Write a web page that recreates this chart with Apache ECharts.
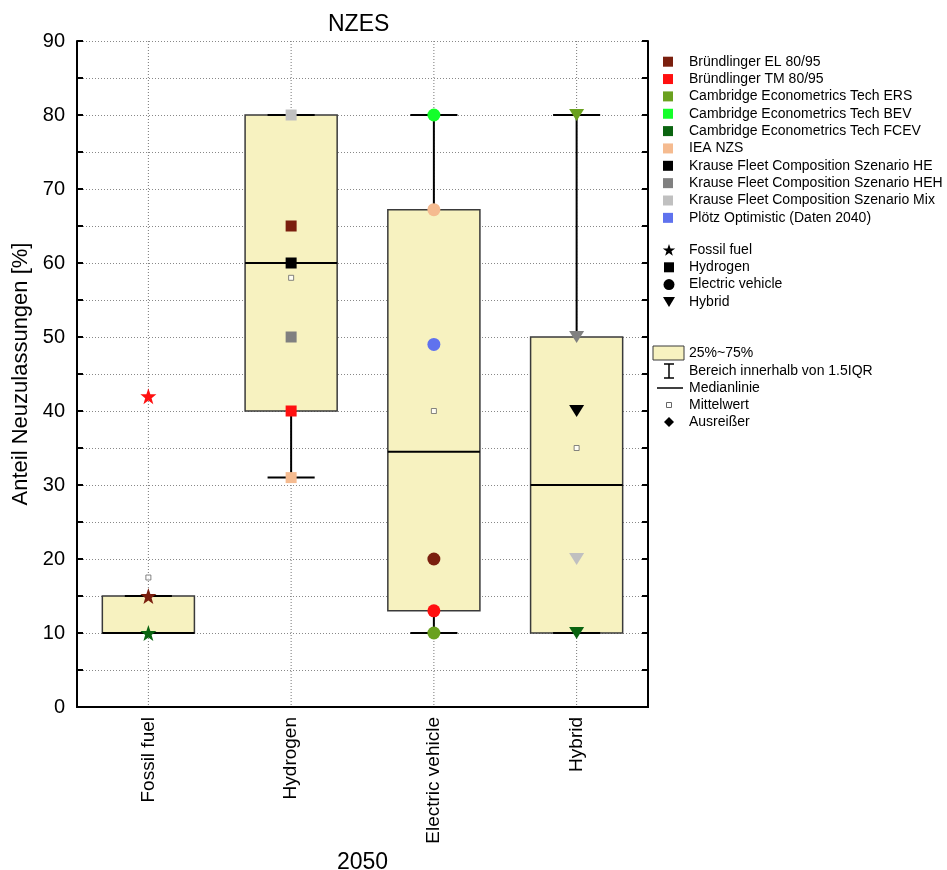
<!DOCTYPE html>
<html><head><meta charset="utf-8">
<script src="https://cdn.jsdelivr.net/npm/echarts@6/dist/echarts.min.js"></script>
<style>html,body{margin:0;padding:0;background:#fff}#c{width:947px;height:870px}</style>
</head><body><div id="c"></div>
<script>
// ---- data ----
const categories = ['Fossil fuel', 'Hydrogen', 'Electric vehicle', 'Hybrid'];
const yTicks = [0, 10, 20, 30, 40, 50, 60, 70, 80, 90];
const boxMin    = [10, 31, 10, 10];
const boxQ1     = [10, 40, 13, 10];
const boxMedian = [10, 60, 34.5, 30];
const boxQ3     = [15, 80, 67.2, 50];
const boxMax    = [15, 80, 80, 80];
const meanValues = [17.5, 58, 40, 35];

const sourceNames = [
  'Bründlinger EL 80/95', 'Bründlinger TM 80/95', 'Cambridge Econometrics Tech ERS',
  'Cambridge Econometrics Tech BEV', 'Cambridge Econometrics Tech FCEV', 'IEA NZS',
  'Krause Fleet Composition Szenario HE', 'Krause Fleet Composition Szenario HEH',
  'Krause Fleet Composition Szenario Mix', 'Plötz Optimistic (Daten 2040)'
];
// values per category: Fossil fuel, Hydrogen, Electric vehicle, Hybrid
const bruendlingerEL = [15, 65, 20, null];
const bruendlingerTM = [42, 40, 13, null];
const cambridgeERS   = [null, null, 10, 80];
const cambridgeBEV   = [null, null, 80, null];
const cambridgeFCEV  = [10, null, null, 10];
const ieaNZS         = [null, 31, 67.2, null];
const krauseHE       = [null, 60, null, 40];
const krauseHEH      = [null, 50, null, 50];
const krauseMix      = [null, 80, null, 20];
const ploetz         = [null, null, 49, null];
const sourceValues = [bruendlingerEL, bruendlingerTM, cambridgeERS, cambridgeBEV, cambridgeFCEV,
  ieaNZS, krauseHE, krauseHEH, krauseMix, ploetz];

const typeLegend = ['Fossil fuel', 'Hydrogen', 'Electric vehicle', 'Hybrid'];
const boxLegend = ['25%~75%', 'Bereich innerhalb von 1.5IQR', 'Medianlinie', 'Mittelwert', 'Ausreißer'];

// ---- styles ----
const sourceColors = ['#7a1f0e', '#ff1010', '#6aa11f', '#14ff2a', '#0a6410', '#f5bb90',
  '#000000', '#808080', '#c0c0c0', '#5f72ee'];
const FONT = 'Liberation Sans, Arial, sans-serif';
const STAR = 'path://M50 0 L61.76 33.82 L97.55 34.55 L69.02 56.18 L79.39 90.45 L50 70 L20.61 90.45 L30.98 56.18 L2.45 34.55 L38.24 33.82 Z';
const catSymbol = [
  {symbol: STAR, symbolSize: 16, symbolRotate: 0},
  {symbol: 'rect', symbolSize: 11, symbolRotate: 0},
  {symbol: 'circle', symbolSize: 13, symbolRotate: 0},
  {symbol: 'triangle', symbolSize: [15, 12], symbolRotate: 180}
];
const BOX_FILL = '#f7f2c0';

const boxData = categories.map((c, i) => [i, boxMin[i], boxQ1[i], boxMedian[i], boxQ3[i], boxMax[i]]);

function renderBox(params, api) {
  const idx = api.value(0);
  const cs = params.coordSys;
  const band = api.size([1, 0])[0];
  const vMin = api.value(1), vQ1 = api.value(2), vMed = api.value(3), vQ3 = api.value(4), vMax = api.value(5);
  const cx = api.coord([idx, vMin])[0];
  const y = v => api.coord([idx, v])[1];
  const bw = band * 0.645, cw = band * 0.33;
  const ch = [];
  ch.push({type: 'line', shape: {x1: cx, y1: cs.y, x2: cx, y2: cs.y + cs.height},
    style: {stroke: '#777', lineWidth: 1, lineDash: [1, 2]}});
  if (vMax > vQ3) ch.push({type: 'line', shape: {x1: cx, y1: y(vQ3), x2: cx, y2: y(vMax)}, style: {stroke: '#000', lineWidth: 2}});
  if (vMin < vQ1) ch.push({type: 'line', shape: {x1: cx, y1: y(vQ1), x2: cx, y2: y(vMin)}, style: {stroke: '#000', lineWidth: 2}});
  ch.push({type: 'rect', shape: {x: cx - bw / 2, y: y(vQ3), width: bw, height: y(vQ1) - y(vQ3)},
    style: {fill: BOX_FILL, stroke: '#3a3a3a', lineWidth: 1.5}});
  ch.push({type: 'line', shape: {x1: cx - bw / 2, y1: y(vMed), x2: cx + bw / 2, y2: y(vMed)}, style: {stroke: '#000', lineWidth: 2}});
  ch.push({type: 'line', shape: {x1: cx - cw / 2, y1: y(vMax), x2: cx + cw / 2, y2: y(vMax)}, style: {stroke: '#000', lineWidth: 2}});
  ch.push({type: 'line', shape: {x1: cx - cw / 2, y1: y(vMin), x2: cx + cw / 2, y2: y(vMin)}, style: {stroke: '#000', lineWidth: 2}});
  return {type: 'group', children: ch};
}

const scatterSeries = sourceNames.map((name, s) => ({
  name: name, type: 'scatter', z: 5,
  itemStyle: {color: sourceColors[s], opacity: 1},
  data: sourceValues[s].map((v, i) => v == null ? null : Object.assign({value: [i, v]}, catSymbol[i])).filter(d => d)
}));

// ---- legend graphics ----
const g = [];
const LX = 663, TX = 689;
sourceNames.forEach((n, i) => {
  const cy = 61.7 + i * 17.35;
  g.push({type: 'rect', x: LX, y: cy - 5, shape: {x: 0, y: 0, width: 10, height: 10}, style: {fill: sourceColors[i]}});
  g.push({type: 'text', x: TX, y: cy, style: {text: n, font: '14px ' + FONT, fill: '#000', verticalAlign: 'middle'}});
});
const typeY = [250, 267.3, 284.6, 301.9];
typeLegend.forEach((n, i) => {
  g.push({type: 'text', x: TX, y: typeY[i], style: {text: n, font: '14px ' + FONT, fill: '#000', verticalAlign: 'middle'}});
});
const starPts = [];
for (let k = 0; k < 10; k++) {
  const a = -Math.PI / 2 + k * Math.PI / 5, r = k % 2 === 0 ? 6.5 : 2.6;
  starPts.push([r * Math.cos(a), r * Math.sin(a)]);
}
g.push({type: 'polygon', x: 669, y: typeY[0] + 0.5, shape: {points: starPts}, style: {fill: '#000'}});
g.push({type: 'rect', x: 664, y: typeY[1] - 5, shape: {x: 0, y: 0, width: 10, height: 10}, style: {fill: '#000'}});
g.push({type: 'circle', x: 669, y: typeY[2], shape: {cx: 0, cy: 0, r: 5.5}, style: {fill: '#000'}});
g.push({type: 'polygon', x: 669, y: typeY[3], shape: {points: [[-6, -5], [6, -5], [0, 5]]}, style: {fill: '#000'}});
const boxY = [353, 371, 388, 405, 422];
boxLegend.forEach((n, i) => {
  g.push({type: 'text', x: TX, y: boxY[i], style: {text: n, font: '14px ' + FONT, fill: '#000', verticalAlign: 'middle'}});
});
g.push({type: 'rect', x: 653, y: boxY[0] - 7, shape: {x: 0, y: 0, width: 31, height: 14}, style: {fill: BOX_FILL, stroke: '#3a3a3a', lineWidth: 1}});
g.push({type: 'line', shape: {x1: 669, y1: boxY[1] - 7, x2: 669, y2: boxY[1] + 7}, style: {stroke: '#000', lineWidth: 1.5}});
g.push({type: 'line', shape: {x1: 664, y1: boxY[1] - 7, x2: 674, y2: boxY[1] - 7}, style: {stroke: '#000', lineWidth: 1.5}});
g.push({type: 'line', shape: {x1: 664, y1: boxY[1] + 7, x2: 674, y2: boxY[1] + 7}, style: {stroke: '#000', lineWidth: 1.5}});
g.push({type: 'line', shape: {x1: 657, y1: boxY[2], x2: 683, y2: boxY[2]}, style: {stroke: '#000', lineWidth: 1.5}});
g.push({type: 'rect', shape: {x: 666.5, y: boxY[3] - 2.5, width: 5, height: 5}, style: {fill: '#fff', stroke: '#666', lineWidth: 1}});
g.push({type: 'polygon', shape: {points: [[669, boxY[4] - 5], [674, boxY[4]], [669, boxY[4] + 5], [664, boxY[4]]]}, style: {fill: '#000'}});

const chart = echarts.init(document.getElementById('c'), null, {renderer: 'canvas'});
chart.setOption({
  animation: false,
  backgroundColor: '#fff',
  textStyle: {fontFamily: FONT},
  title: {text: 'NZES', left: 323, top: 8, textStyle: {fontSize: 23, fontWeight: 'normal', color: '#000', fontFamily: FONT}},
  grid: {left: 77, right: 299, top: 41, bottom: 163, containLabel: false, outerBoundsMode: 'none'},
  xAxis: [{
    type: 'category', data: categories, boundaryGap: true, position: 'bottom',
    name: '2050', nameLocation: 'middle', nameGap: 140,
    nameTextStyle: {fontSize: 23, color: '#000', fontFamily: FONT},
    axisLine: {lineStyle: {color: '#000', width: 2}},
    axisTick: {inside: true, alignWithLabel: true, length: 7, lineStyle: {color: '#000', width: 2}},
    axisLabel: {rotate: 90, fontSize: 19, color: '#000', margin: 10, fontFamily: FONT},
    splitLine: {show: false}
  }, {
    type: 'category', data: categories, boundaryGap: true, position: 'top',
    axisLine: {lineStyle: {color: '#000', width: 2}},
    axisTick: {inside: true, alignWithLabel: true, length: 7, lineStyle: {color: '#000', width: 2}},
    axisLabel: {show: false}, splitLine: {show: false}
  }],
  yAxis: [{
    type: 'value', min: yTicks[0], max: yTicks[yTicks.length - 1], interval: 10, position: 'left',
    name: 'Anteil Neuzulassungen [%]', nameLocation: 'middle', nameGap: 44,
    nameTextStyle: {fontSize: 22, color: '#000', fontFamily: FONT},
    axisLine: {show: true, lineStyle: {color: '#000', width: 2}},
    axisTick: {show: true, inside: true, length: 6, lineStyle: {color: '#000', width: 2}},
    minorTick: {show: true, splitNumber: 2, length: 6, lineStyle: {color: '#000', width: 2}},
    axisLabel: {fontSize: 20, color: '#000', margin: 12, fontFamily: FONT},
    splitLine: {show: true, lineStyle: {color: '#888', width: 1, type: [1, 2]}},
    minorSplitLine: {show: true, lineStyle: {color: '#888', width: 1, type: [1, 2]}}
  }, {
    type: 'value', min: yTicks[0], max: yTicks[yTicks.length - 1], interval: 10, position: 'right',
    axisLine: {show: true, lineStyle: {color: '#000', width: 2}},
    axisTick: {show: true, inside: true, length: 6, lineStyle: {color: '#000', width: 2}},
    minorTick: {show: true, splitNumber: 2, length: 6, lineStyle: {color: '#000', width: 2}},
    axisLabel: {show: false}, splitLine: {show: false}
  }],
  graphic: g,
  series: [{
    type: 'custom', name: 'box', z: 2, renderItem: renderBox,
    encode: {x: 0, y: [1, 2, 3, 4, 5]}, data: boxData
  }, {
    type: 'scatter', name: 'Mittelwert', z: 4, symbol: 'rect', symbolSize: 5,
    itemStyle: {color: '#fff', borderColor: '#666', borderWidth: 1},
    data: meanValues.map((v, i) => [i, v])
  }].concat(scatterSeries)
});
</script></body></html>
